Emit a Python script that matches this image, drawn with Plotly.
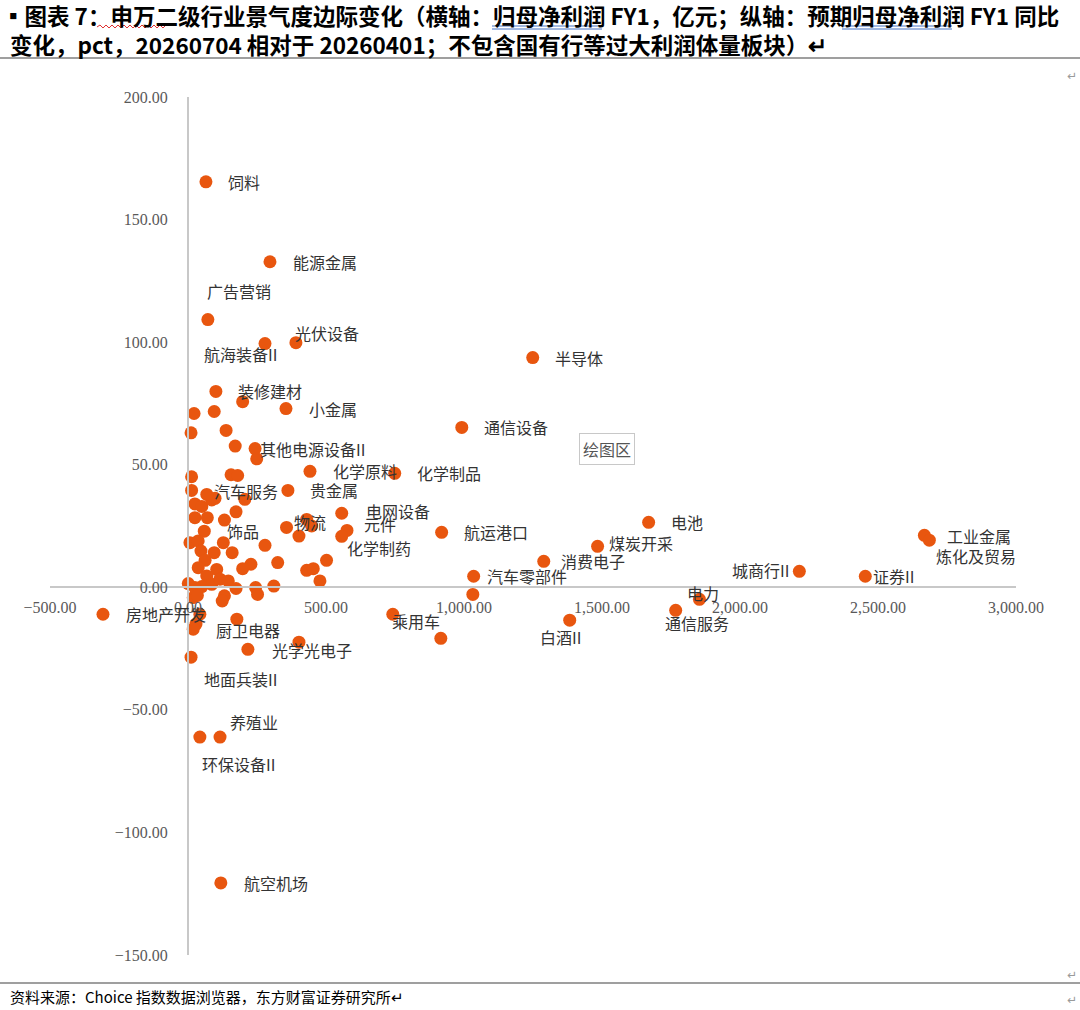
import plotly.graph_objects as go

# ---------------- data ----------------
labeled_names = ["饲料", "能源金属", "广告营销", "航海装备II", "光伏设备", "半导体", "装修建材", "小金属",
                 "通信设备", "其他电源设备II", "化学原料", "化学制品", "汽车服务", "贵金属", "电网设备", "物流",
                 "元件", "化学制药", "饰品", "航运港口", "电池", "煤炭开采", "消费电子", "汽车零部件",
                 "城商行II", "证券II", "工业金属", "炼化及贸易", "电力", "通信服务", "白酒II", "乘用车",
                 "房地产开发", "厨卫电器", "光学光电子", "地面兵装II", "养殖业", "环保设备II", "航空机场"]
labeled_x = [65, 297, 72, 279, 391, 1249, 101, 355,
             992, 243, 442, 749, 68, 362, 557, 357,
             576, 557, 132, 919, 1669, 1484, 1289, 1035,
             2215, 2454, 2668, 2686, 1853, 1767, 1383, 742,
             -308, 177, 217, 11, 116, 43, 119]
labeled_y = [165.4, 132.8, 109.2, 99.4, 99.8, 93.7, 79.9, 72.9,
             65.2, 56.6, 47.3, 46.5, 37.9, 39.5, 30.2, 24.4,
             23.2, 20.8, 27.4, 22.4, 26.5, 16.7, 10.6, 4.5,
             6.5, 4.5, 21.2, 19.2, -4.9, -9.4, -13.4, -11.0,
             -11.0, -13.0, -25.3, -28.5, -61.1, -61.1, -120.6]

other_x = [198, 22, 95, 11, 138, 171, 249, 13, 156, 180, 13, 206, 25, 50, 86, 98,
           25, 70, 174, 59, 402, 430, 448, 7, 37, 47, 128, 95, 160, 279, 325, 502,
           228, 198, 62, 37, 104, 430, 454, 478, 1, 68, 86, 116, 146, 174, 245, 252,
           311, 19, 50, 132, 43, 25, 34, 124, 29, 19, 402, 1032, 916]
other_y = [75.7, 70.9, 71.7, 63.0, 64.0, 57.6, 52.4, 45.1, 45.9, 45.6, 39.5, 35.9, 34.0, 33.0, 35.6, 36.3,
           28.4, 28.4, 30.8, 22.9, 20.9, 27.7, 25.0, 18.2, 18.9, 14.8, 18.2, 14.1, 14.1, 17.1, 10.1, 11.0,
           9.4, 7.6, 11.0, 8.0, 7.3, 6.9, 7.6, 2.6, 1.5, 4.6, 1.2, 3.3, 2.6, -0.5, -0.1, -2.9,
           0.5, -4.2, 0.3, -3.5, -11.0, -0.1, -3.3, -5.6, -15.0, -17.1, -22.4, -2.9, -20.8]

x_range = [-500, 3000]
y_range = [-150, 200]

title_line1 = "▪图表 7：申万二级行业景气度边际变化（横轴：归母净利润 FY1，亿元；纵轴：预期归母净利润 FY1 同比"
title_line2 = "变化，pct，20260704 相对于 20260401；不包含国有行等过大利润体量板块）↵"
source_text = "资料来源：Choice 指数数据浏览器，东方财富证券研究所↵"

# label placement (pixel offsets from the point: dx to the label's left edge, dy upward)
label_offsets = {
    "饲料": (20, 0), "能源金属": (21, 0), "广告营销": (-3, 29), "航海装备II": (-63, -10),
    "光伏设备": (-3, 10), "半导体": (20, 0), "装修建材": (20, 0), "小金属": (21, 0),
    "通信设备": (20, 0), "其他电源设备II": (3, 0), "化学原料": (21, 0), "化学制品": (20, 0),
    "汽车服务": (5, 3), "贵金属": (20, 0), "电网设备": (22, 2), "物流": (5, 5),
    "元件": (15, 6), "化学制药": (3, -12), "饰品": (1, -11), "航运港口": (20, 0),
    "电池": (20, 0), "煤炭开采": (9, 3), "消费电子": (15, 0), "汽车零部件": (11, 0),
    "城商行II": (-69, 1), "证券II": (6, 0), "工业金属": (21, -1), "炼化及贸易": (5, -16),
    "电力": (-14, 6), "通信服务": (-13, -13), "白酒II": (-32, -17), "乘用车": (-3, -7),
    "房地产开发": (21, 0), "厨卫电器": (-23, -11), "光学光电子": (22, -1), "地面兵装II": (11, -22),
    "养殖业": (8, 15), "环保设备II": (0, -27), "航空机场": (21, 0),
}

# ---------------- layout geometry ----------------
W, H = 1080, 1010
ML, MR, MT, MB = 50, 64, 97, 55
PW, PH = W - ML - MR, H - MT - MB


def fx(px):
    return (px - ML) / PW


def fy(py):
    return (H - MB - py) / PH


DOT = "#E8560F"
LABEL_FONT = dict(family="Noto Sans CJK SC", size=16, color="#333333")
TICK_FONT = dict(family="Liberation Serif", size=16, color="#595959")
TITLE_FONT = dict(family="Noto Sans CJK SC", size=22.5, color="#000000", weight="bold")

fig = go.Figure()
fig.add_trace(go.Scatter(x=other_x, y=other_y, mode="markers",
                         marker=dict(size=13, color=DOT), hoverinfo="skip", showlegend=False))
fig.add_trace(go.Scatter(x=labeled_x, y=labeled_y, mode="markers", text=labeled_names,
                         marker=dict(size=13, color=DOT), showlegend=False))

annotations = []
for n, xv, yv in zip(labeled_names, labeled_x, labeled_y):
    dx, dy = label_offsets[n]
    annotations.append(dict(x=xv, y=yv, xref="x", yref="y", text=n, showarrow=False,
                            xanchor="left", yanchor="middle", xshift=dx, yshift=dy,
                            font=LABEL_FONT))

# title / source
annotations.append(dict(x=fx(0), y=fy(15), xref="paper", yref="paper", text=title_line1,
                        showarrow=False, xanchor="left", yanchor="middle", font=TITLE_FONT))
annotations.append(dict(x=fx(8), y=fy(44), xref="paper", yref="paper", text=title_line2,
                        showarrow=False, xanchor="left", yanchor="middle", font=TITLE_FONT))
annotations.append(dict(x=fx(8), y=fy(996), xref="paper", yref="paper", text=source_text,
                        showarrow=False, xanchor="left", yanchor="middle",
                        font=dict(family="Noto Sans CJK SC", size=15, color="#000000")))
annotations.append(dict(x=fx(607), y=fy(449), xref="paper", yref="paper", text="绘图区",
                        showarrow=False, xanchor="center", yanchor="middle",
                        bgcolor="#FFFFFF", bordercolor="#C8C8C8", borderwidth=1, borderpad=3,
                        font=dict(family="Noto Sans CJK SC", size=16, color="#555555")))
for py in (76, 975, 1000):
    annotations.append(dict(x=fx(1072), y=fy(py), xref="paper", yref="paper", text="↵",
                            showarrow=False, xanchor="center", yanchor="middle",
                            font=dict(family="DejaVu Sans", size=12, color="#9A9A9A")))

shapes = [
    dict(type="line", xref="paper", yref="paper", x0=fx(0), x1=fx(1080), y0=fy(58), y1=fy(58),
         line=dict(color="#7F7F7F", width=1.5)),
    dict(type="line", xref="paper", yref="paper", x0=fx(0), x1=fx(1080), y0=fy(983), y1=fy(983),
         line=dict(color="#7F7F7F", width=1.5)),
    # spell-check underlines in the title
    dict(type="line", xref="paper", yref="paper", x0=fx(492), x1=fx(602), y0=fy(26), y1=fy(26),
         line=dict(color="#4472C4", width=1)),
    dict(type="line", xref="paper", yref="paper", x0=fx(492), x1=fx(602), y0=fy(29), y1=fy(29),
         line=dict(color="#4472C4", width=1)),
    dict(type="line", xref="paper", yref="paper", x0=fx(842), x1=fx(952), y0=fy(26), y1=fy(26),
         line=dict(color="#4472C4", width=1)),
    dict(type="line", xref="paper", yref="paper", x0=fx(842), x1=fx(952), y0=fy(29), y1=fy(29),
         line=dict(color="#4472C4", width=1)),
]
# wavy red underline
wave = "M %f %f" % (fx(97), fy(27))
px = 97
up = True
while px < 166:
    px += 3
    wave += " L %f %f" % (fx(px), fy(25 if up else 28))
    up = not up
shapes.append(dict(type="path", xref="paper", yref="paper", path=wave,
                   line=dict(color="#E03030", width=1)))

fig.update_layout(
    width=W, height=H,
    margin=dict(l=ML, r=MR, t=MT, b=MB),
    paper_bgcolor="#FFFFFF", plot_bgcolor="#FFFFFF",
    showlegend=False,
    xaxis=dict(range=x_range, anchor="free", position=(0 - y_range[0]) / (y_range[1] - y_range[0]),
               dtick=500, tick0=-500, tickformat=",.2f", showgrid=False, zeroline=False,
               showline=True, linecolor="#C8C8C8", linewidth=2, ticks="",
               tickfont=TICK_FONT, ticklabelstandoff=6),
    yaxis=dict(range=y_range, anchor="free", position=(0 - x_range[0]) / (x_range[1] - x_range[0]),
               dtick=50, tick0=-150, tickformat=",.2f", showgrid=False, zeroline=False,
               showline=True, linecolor="#C8C8C8", linewidth=2, ticks="",
               tickfont=TICK_FONT, ticklabelstandoff=16),
    annotations=annotations,
    shapes=shapes,
)

fig.write_html("out.html")
